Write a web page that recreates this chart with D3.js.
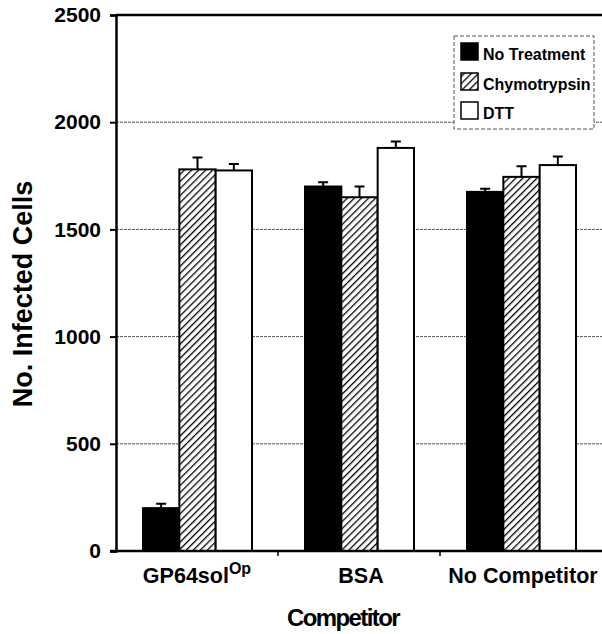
<!DOCTYPE html>
<html>
<head>
<meta charset="utf-8">
<script src="https://cdn.jsdelivr.net/npm/d3@7"></script>
<style>
  body { margin: 0; background: #fff; }
  text { font-family: "Liberation Sans", Arial, sans-serif; font-weight: bold; fill: #000; }
</style>
</head>
<body>
<svg id="chart" width="602" height="634"></svg>
<script>
// chart data
var competitors = ["GP64sol", "BSA", "No Competitor"];
var treatments = ["No Treatment", "Chymotrypsin", "DTT"];
var noTreatment = [200, 1700, 1675];
var chymotrypsin = [1780, 1650, 1745];
var dtt = [1775, 1880, 1800];
var noTreatmentErr = [20, 20, 15];
var chymotrypsinErr = [55, 50, 50];
var dttErr = [30, 30, 40];
var yTicks = [0, 500, 1000, 1500, 2000, 2500];

var series = [noTreatment, chymotrypsin, dtt];
var errs = [noTreatmentErr, chymotrypsinErr, dttErr];

var svg = d3.select("#chart");

var mLeft = 116, mRight = 602, mTop = 15, mBottom = 551;

var x = d3.scaleBand().domain(competitors).range([mLeft, mRight]);
var sub = d3.scaleBand().domain(treatments).range([27, 136]);
var y = d3.scaleLinear().domain([0, 2500]).range([mBottom, mTop]);

// hatch pattern
var defs = svg.append("defs");
var pat = defs.append("pattern")
  .attr("id", "hatch")
  .attr("patternUnits", "userSpaceOnUse")
  .attr("width", 5).attr("height", 5)
  .attr("patternTransform", "rotate(45)");
pat.append("rect").attr("width", 5).attr("height", 5).attr("fill", "#fff");
pat.append("line").attr("x1", 0).attr("y1", 0).attr("x2", 0).attr("y2", 5)
  .attr("stroke", "#000").attr("stroke-width", 2.6);

var fills = ["#000", "url(#hatch)", "#fff"];

// gridlines
svg.append("g").selectAll("line")
  .data(yTicks.filter(function(d) { return d > 0 && d < 2500; }))
  .enter().append("line")
  .attr("x1", mLeft).attr("x2", mRight)
  .attr("y1", function(d) { return y(d); })
  .attr("y2", function(d) { return y(d); })
  .attr("stroke", "#555").attr("stroke-width", 1)
  .attr("stroke-dasharray", "3,1");

// top border
svg.append("line")
  .attr("x1", mLeft).attr("x2", mRight)
  .attr("y1", y(2500)).attr("y2", y(2500))
  .attr("stroke", "#000").attr("stroke-width", 2.5);

// bars
treatments.forEach(function(t, i) {
  var g = svg.append("g");
  g.selectAll("rect")
    .data(series[i])
    .enter().append("rect")
    .attr("x", function(d, j) { return x(competitors[j]) + sub(t); })
    .attr("y", function(d) { return y(d); })
    .attr("width", sub.bandwidth())
    .attr("height", function(d) { return y(0) - y(d); })
    .attr("fill", fills[i])
    .attr("stroke", "#000").attr("stroke-width", 2);

  // error bars
  g.selectAll("path.err")
    .data(series[i])
    .enter().append("path")
    .attr("class", "err")
    .attr("d", function(d, j) {
      var cx = x(competitors[j]) + sub(t) + sub.bandwidth() / 2;
      var y0 = y(d), y1 = y(d + errs[i][j]);
      return "M" + cx + "," + y0 + "V" + y1 + "M" + (cx - 5) + "," + y1 + "H" + (cx + 5);
    })
    .attr("fill", "none")
    .attr("stroke", "#000").attr("stroke-width", 2);
});

// y axis
var yAxis = svg.append("g")
  .attr("transform", "translate(" + mLeft + ",0)")
  .call(d3.axisLeft(y).tickValues(yTicks).tickFormat(d3.format("d")).tickSize(6).tickPadding(9));
yAxis.select(".domain").attr("stroke-width", 2.5);
yAxis.selectAll(".tick line").attr("stroke-width", 2);
yAxis.selectAll("text")
  .style("font-family", "'Liberation Sans', Arial, sans-serif")
  .style("font-weight", "bold")
  .style("font-size", "21px");

// x axis
svg.append("line")
  .attr("x1", mLeft - 6).attr("x2", mRight)
  .attr("y1", y(0)).attr("y2", y(0))
  .attr("stroke", "#000").attr("stroke-width", 2.5);
svg.append("g").selectAll("line")
  .data(competitors.slice(1))
  .enter().append("line")
  .attr("x1", function(d) { return x(d); })
  .attr("x2", function(d) { return x(d); })
  .attr("y1", y(0)).attr("y2", y(0) + 5)
  .attr("stroke", "#000").attr("stroke-width", 1.5);

// category labels
var catLabels = svg.append("g").selectAll("text")
  .data(competitors)
  .enter().append("text")
  .attr("x", function(d) { return x(d) + x.bandwidth() / 2 + (d === "GP64sol" ? 0 : 2); })
  .attr("y", 583)
  .attr("text-anchor", "middle")
  .style("font-size", "21.5px");
catLabels.text(function(d) { return d; });
catLabels.filter(function(d) { return d === "GP64sol"; })
  .append("tspan")
  .attr("dy", -9)
  .style("font-size", "16px")
  .text("Op");

// axis titles
svg.append("text")
  .attr("x", 343).attr("y", 626)
  .attr("text-anchor", "middle")
  .style("font-size", "24px")
  .style("letter-spacing", "-1.6px")
  .text("Competitor");

svg.append("text")
  .attr("transform", "translate(32,294) rotate(-90)")
  .attr("text-anchor", "middle")
  .style("font-size", "27px")
  .text("No. Infected Cells");

// legend
var lg = svg.append("g").attr("transform", "translate(454,36)");
lg.append("rect")
  .attr("width", 140).attr("height", 93)
  .attr("fill", "#fff")
  .attr("stroke", "#555").attr("stroke-width", 1)
  .attr("stroke-dasharray", "4,2");
var rowBase = [24, 54, 83];
treatments.forEach(function(t, i) {
  var row = lg.append("g").attr("transform", "translate(7," + rowBase[i] + ")");
  row.append("rect")
    .attr("y", -17)
    .attr("width", 17).attr("height", 17)
    .attr("fill", fills[i])
    .attr("stroke", "#000").attr("stroke-width", 1.5);
  row.append("text")
    .attr("x", 22).attr("y", 0)
    .style("font-size", "16px")
    .text(t);
});
</script>
</body>
</html>
